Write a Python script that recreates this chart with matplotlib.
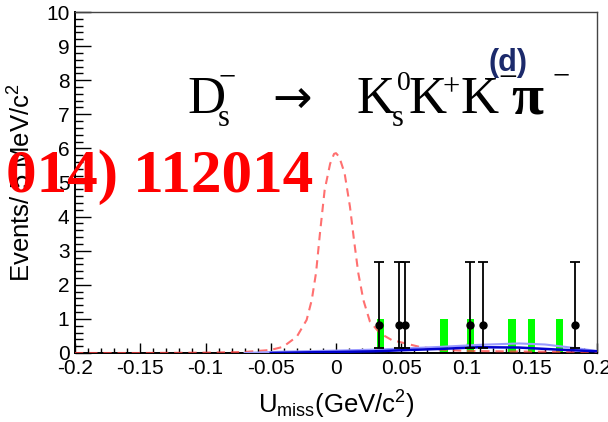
import matplotlib
matplotlib.use('Agg')
import matplotlib.pyplot as plt
from matplotlib.ticker import MultipleLocator

plt.rcParams['font.family'] = ['Liberation Sans', 'DejaVu Sans']
plt.rcParams['mathtext.fontset'] = 'custom'
plt.rcParams['mathtext.rm'] = 'Liberation Sans'
plt.rcParams['mathtext.it'] = 'Liberation Sans:italic'
plt.rcParams['mathtext.bf'] = 'Liberation Sans:bold'

# ---- data ----
data_x = [0.0332, 0.0483, 0.0532, 0.1030, 0.1128, 0.1831]
data_y = [0.81, 0.81, 0.81, 0.81, 0.81, 0.81]
data_err_lo = [0.65, 0.65, 0.65, 0.65, 0.65, 0.65]
data_err_hi = [1.86, 1.86, 1.86, 1.86, 1.86, 1.86]

green_x = [0.0340, 0.0828, 0.1029, 0.1349, 0.1500, 0.1710]
green_h = [1, 1, 1, 1, 1, 1]

signal_x = [-0.20, -0.15, -0.10, -0.07, -0.05, -0.0406, -0.030, -0.0225, -0.0186,
            -0.0153, -0.0123, -0.0087, -0.0045, -0.0015, 0.0, 0.0025, 0.0066, 0.0107,
            0.0138, 0.0171, 0.021, 0.026, 0.0337, 0.0427, 0.064, 0.08, 0.10, 0.15, 0.20]
signal_y = [0.0, 0.0, 0.01, 0.03, 0.09, 0.18, 0.48, 0.97, 1.55,
            2.35, 3.51, 4.78, 5.55, 5.84, 5.86, 5.75, 5.27, 4.29,
            3.31, 2.34, 1.55, 0.92, 0.58, 0.38, 0.18, 0.10, 0.06, 0.04, 0.03]

bkg_x = [-0.07, -0.04, 0.0, 0.03, 0.05, 0.08, 0.11, 0.14, 0.16, 0.18, 0.20]
bkg_y = [0.0, 0.04, 0.07, 0.10, 0.13, 0.18, 0.24, 0.28, 0.25, 0.16, 0.06]

bkg2_x = [-0.05, -0.02, 0.0, 0.03, 0.05, 0.08, 0.11, 0.14, 0.17, 0.20]
bkg2_y = [0.0, 0.02, 0.03, 0.05, 0.08, 0.12, 0.17, 0.16, 0.10, 0.05]

x_ticks = [-0.2, -0.15, -0.1, -0.05, 0, 0.05, 0.1, 0.15, 0.2]
x_ticklabels = ['-0.2', '-0.15', '-0.1', '-0.05', '0', '0.05', '0.1', '0.15', '0.2']
y_ticks = [0, 1, 2, 3, 4, 5, 6, 7, 8, 9, 10]

W, H = 608, 422
fig = plt.figure(figsize=(W / 100, H / 100), dpi=100)
fig.patch.set_facecolor('white')
ax = fig.add_axes([75 / W, 69 / H, 522 / W, 341 / H])

ax.bar(green_x, green_h, width=0.0055, color='#00ff00', zorder=2)
ax.plot(signal_x, signal_y, color='#ff4040', alpha=0.75, lw=1.5,
        dashes=(4, 2.8), zorder=3)
ax.plot(bkg_x, bkg_y, color='#9a9aff', lw=1.5, zorder=3)
ax.plot(bkg2_x, bkg2_y, color='#0000cc', lw=1.8, zorder=3)
ax.errorbar(data_x, data_y, yerr=[data_err_lo, data_err_hi], fmt='o', color='black',
            ms=5, lw=1.3, capsize=3.5, capthick=1.3, zorder=5)

ax.set_xlim(-0.2, 0.2)
ax.set_ylim(0, 10)
ax.set_xticks(x_ticks)
ax.set_xticklabels(x_ticklabels)
ax.set_yticks(y_ticks)
ax.xaxis.set_minor_locator(MultipleLocator(0.01))
ax.yaxis.set_minor_locator(MultipleLocator(0.2))
ax.tick_params(axis='x', which='major', direction='in', length=7.2, width=1.0,
               labelsize=15, pad=4, top=False)
ax.tick_params(axis='x', which='minor', direction='in', length=3.6, width=1.0, top=False)
ax.tick_params(axis='y', which='major', direction='in', length=11.5, width=1.0,
               labelsize=15, pad=4, right=False)
ax.tick_params(axis='y', which='minor', direction='in', length=5.8, width=1.0, right=False)
for s in ['left', 'bottom']:
    ax.spines[s].set_linewidth(1.4)
for s in ['top', 'right']:
    ax.spines[s].set_linewidth(1.0)
    ax.spines[s].set_color('#444444')

ax.set_xlabel(r'U$_{\mathrm{miss}}$(GeV/c$^{\mathrm{2}}$)', fontsize=18.5)
ax.xaxis.set_label_coords(0.5, (353 - 389) / 341)
ax.set_ylabel(r'Events/ 5 MeV/c$^{\mathrm{2}}$', fontsize=18.5)
ax.yaxis.label.set_va('center')
ax.yaxis.set_label_coords((22 - 75) / 522, 0.5)


def T(xp, yp, s, **kw):
    fig.text(xp / W, 1 - yp / H, s, **kw)


serif = ['Liberation Serif', 'DejaVu Serif']
big = 38
T(187, 113, 'D', family=serif, fontsize=big, va='baseline')
T(218, 126, 's', family=serif, fontsize=22, va='baseline')
T(219, 78, '\u2212', family=serif, fontsize=22, va='center')
T(272, 100, '\u2192', family=['DejaVu Sans'], fontsize=34, va='center')
T(357, 113, 'K', family=serif, fontsize=big, va='baseline')
T(397, 90, '0', family=serif, fontsize=20, va='baseline')
T(392, 126, 's', family=serif, fontsize=22, va='baseline')
T(408, 113, 'K', family=serif, fontsize=big, va='baseline')
T(442, 88, '+', family=serif, fontsize=22, va='center')
T(461, 113, 'K', family=serif, fontsize=big, va='baseline')
T(498, 79, '\u2212', family=serif, fontsize=24, va='center', zorder=4)
T(489, 63, '(d)', family=['Liberation Sans'], fontsize=22, fontweight='bold',
  color='#1c2a6b', va='center', zorder=5)
T(511, 113, '\u03c0', family=serif, fontsize=42, fontweight='bold', va='baseline')
T(552, 77, '\u2212', family=serif, fontsize=22, va='center')

T(313, 192, '014) 112014', family=serif, fontsize=44, fontweight='bold',
  color='#ff0000', ha='right', va='baseline', zorder=10)

fig.savefig('out.png', dpi=100, facecolor='white')
